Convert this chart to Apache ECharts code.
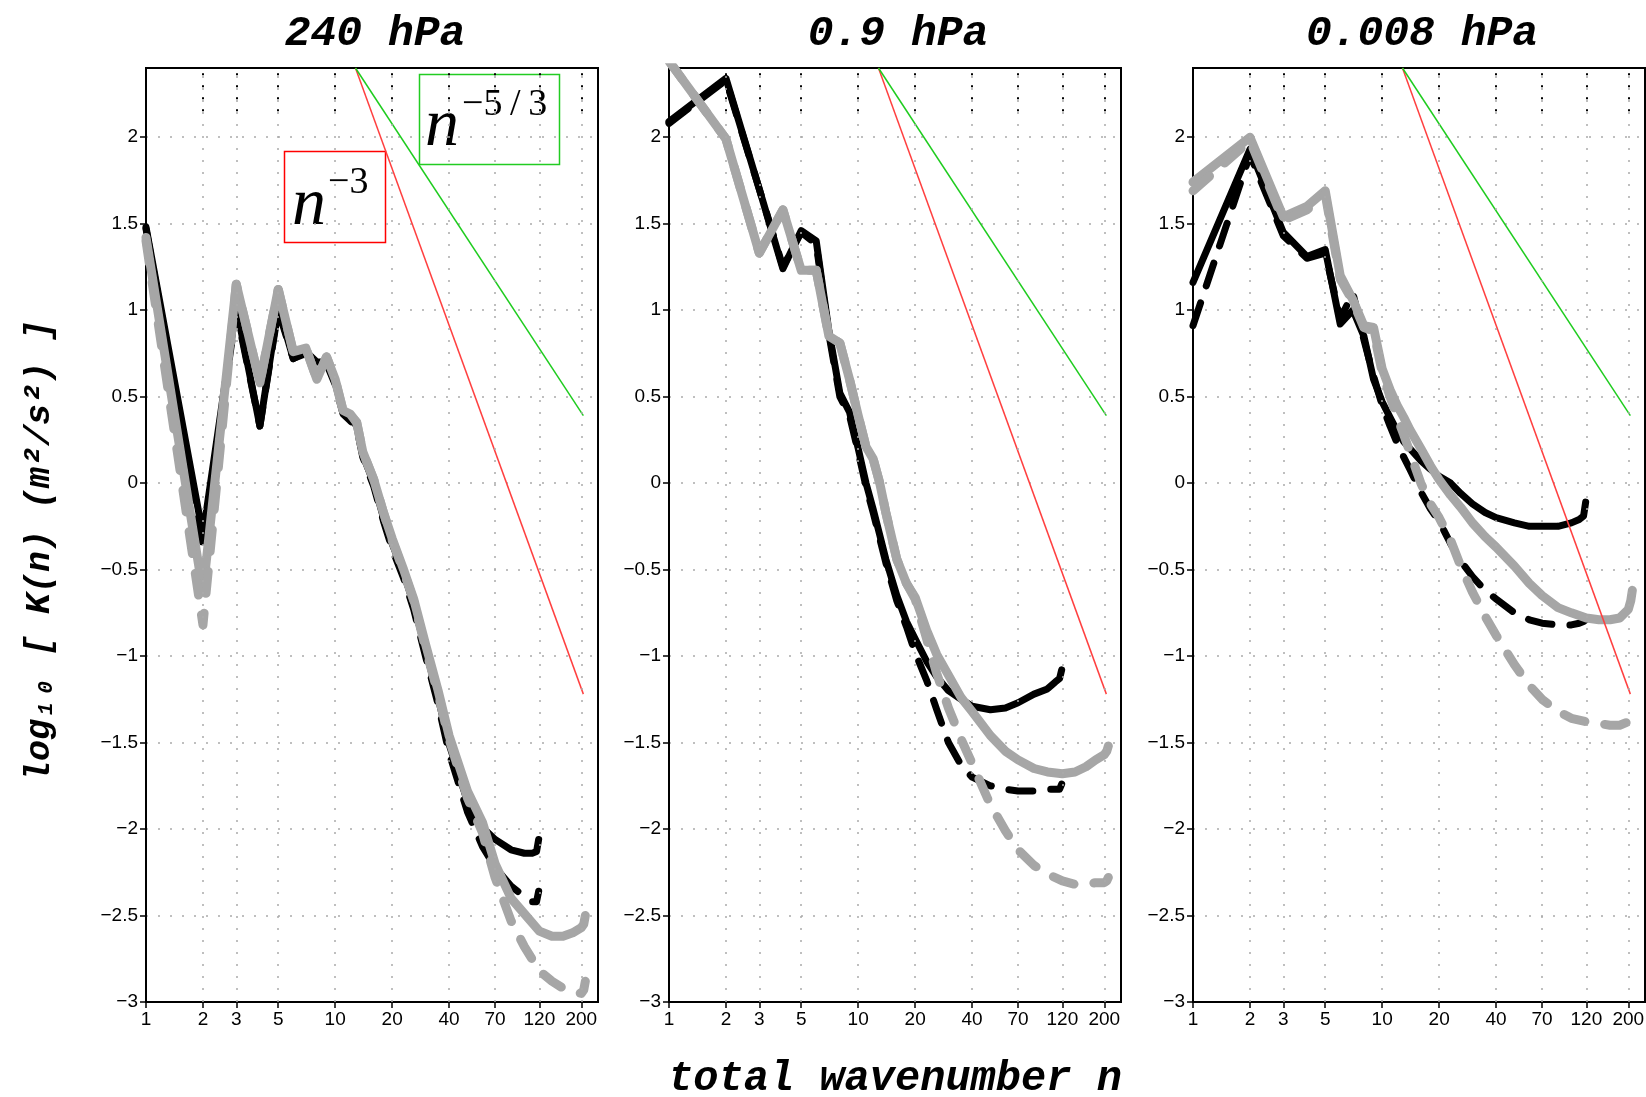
<!DOCTYPE html>
<html>
<head>
<meta charset="utf-8">
<title>kinetic energy spectra</title>
<script src="https://cdn.jsdelivr.net/npm/echarts@6/dist/echarts.min.js"></script>
<style>
  html, body { margin: 0; padding: 0; background: #fff; }
  #main { width: 1646px; height: 1097px; }
</style>
</head>
<body>
<div id="main"></div>
<script>
// wavenumbers at which the curves are sampled (T119 runs / T213 runs)
var nT119 = [1,2,3,4,5,6,7,8,9,10,11,12,13,14,16,18,20,23,26,30,35,40,50,60,70,85,100,110,116,119];
var nT213 = [1,2,3,4,5,6,7,8,9,10,11,12,13,14,16,18,20,23,26,30,35,40,50,60,70,85,100,120,140,160,180,200,206,210];

// 240 hPa
var blackSolid240 = [1.48,-0.30,1.02,0.33,1.02,0.72,0.76,0.70,0.70,0.58,0.41,0.38,0.33,0.16,0.0,-0.20,-0.35,-0.52,-0.70,-0.96,-1.24,-1.51,-1.84,-1.99,-2.06,-2.12,-2.14,-2.14,-2.13,-2.06];
var blackDash240  = [1.47,-0.36,1.00,0.33,1.00,0.72,0.75,0.69,0.69,0.57,0.40,0.36,0.32,0.15,-0.02,-0.22,-0.38,-0.55,-0.73,-1.00,-1.28,-1.56,-1.90,-2.10,-2.22,-2.33,-2.39,-2.42,-2.42,-2.36];
var graySolid240  = [1.42,-0.63,1.15,0.58,1.12,0.76,0.78,0.60,0.73,0.60,0.42,0.40,0.35,0.18,0.02,-0.17,-0.32,-0.50,-0.67,-0.93,-1.20,-1.46,-1.78,-1.96,-2.20,-2.40,-2.49,-2.59,-2.62,-2.62,-2.60,-2.57,-2.55,-2.50];
var grayDash240   = [1.40,-0.82,1.15,0.58,1.12,0.76,0.78,0.60,0.73,0.60,0.42,0.40,0.35,0.18,0.02,-0.17,-0.33,-0.51,-0.68,-0.95,-1.22,-1.48,-1.82,-2.02,-2.28,-2.53,-2.68,-2.82,-2.88,-2.92,-2.94,-2.95,-2.93,-2.88];

// 0.9 hPa
var blackSolid09 = [2.09,2.34,1.70,1.24,1.46,1.40,0.88,0.52,0.41,0.20,0.0,-0.15,-0.30,-0.44,-0.65,-0.80,-0.90,-1.03,-1.12,-1.20,-1.25,-1.29,-1.31,-1.30,-1.27,-1.22,-1.19,-1.15,-1.13,-1.08];
var blackDash09  = [2.08,2.33,1.70,1.25,1.45,1.38,0.86,0.50,0.39,0.18,-0.02,-0.17,-0.32,-0.46,-0.68,-0.83,-0.98,-1.14,-1.31,-1.50,-1.63,-1.70,-1.75,-1.77,-1.78,-1.78,-1.77,-1.77,-1.77,-1.74];
var graySolid09  = [2.44,1.99,1.33,1.58,1.23,1.23,0.85,0.81,0.60,0.39,0.21,0.14,0.0,-0.17,-0.44,-0.58,-0.66,-0.85,-0.99,-1.11,-1.24,-1.32,-1.46,-1.55,-1.60,-1.65,-1.67,-1.68,-1.67,-1.64,-1.60,-1.57,-1.55,-1.52];
var grayDash09   = [2.44,1.99,1.33,1.58,1.23,1.23,0.85,0.81,0.60,0.39,0.21,0.14,0.0,-0.17,-0.44,-0.58,-0.67,-0.90,-1.10,-1.30,-1.48,-1.62,-1.86,-2.01,-2.12,-2.21,-2.26,-2.30,-2.32,-2.32,-2.31,-2.31,-2.30,-2.28];

// 0.008 hPa
var blackSolid0008 = [1.16,1.93,1.45,1.31,1.35,0.92,1.00,0.85,0.60,0.47,0.38,0.30,0.24,0.20,0.13,0.08,0.04,0.0,-0.06,-0.12,-0.17,-0.20,-0.23,-0.25,-0.25,-0.25,-0.23,-0.21,-0.19,-0.11];
var blackDash0008  = [0.91,1.90,1.43,1.30,1.33,0.95,1.10,0.83,0.62,0.45,0.33,0.23,0.15,0.08,-0.05,-0.15,-0.22,-0.35,-0.45,-0.54,-0.62,-0.67,-0.75,-0.79,-0.81,-0.82,-0.82,-0.81,-0.80,-0.79];
var graySolid0008  = [1.74,2.00,1.54,1.60,1.69,1.20,1.06,0.91,0.90,0.66,0.54,0.45,0.38,0.31,0.20,0.10,0.02,-0.07,-0.14,-0.23,-0.31,-0.37,-0.48,-0.58,-0.65,-0.72,-0.75,-0.78,-0.79,-0.79,-0.78,-0.73,-0.68,-0.62];
var grayDash0008   = [1.69,1.98,1.52,1.58,1.67,1.18,1.05,0.90,0.88,0.64,0.50,0.38,0.28,0.18,0.0,-0.12,-0.20,-0.33,-0.48,-0.63,-0.77,-0.88,-1.05,-1.17,-1.25,-1.32,-1.36,-1.38,-1.39,-1.40,-1.40,-1.38,-1.36,-1.33];

// reference slopes n^-3 and n^-5/3 (end points)
var refN = [12.8, 205];
var refMinus3 = [2.4, -1.22];
var refMinus53 = [2.4, 0.39];

var panelTitles = ['240 hPa', '0.9 hPa', '0.008 hPa'];
var xTicks = [1, 2, 3, 5, 10, 20, 40, 70, 120, 200];

var panels = [
  [blackSolid240, blackDash240, graySolid240, grayDash240],
  [blackSolid09, blackDash09, graySolid09, grayDash09],
  [blackSolid0008, blackDash0008, graySolid0008, grayDash0008]
];

var chart = echarts.init(document.getElementById('main'));

var gridLefts = [146, 669, 1193];
var monoFont = 'Liberation Mono';

function pairs(xs, ys) {
  return xs.map(function (x, i) { return [x, ys[i]]; });
}

function curve(idx, xs, ys, color, width, dashed) {
  return {
    type: 'line',
    xAxisIndex: idx,
    yAxisIndex: idx,
    data: pairs(xs, ys),
    symbol: 'none',
    silent: true,
    z: 3,
    lineStyle: {
      color: color,
      width: width,
      type: dashed ? (width > 7 ? [22, 20] : [24, 18]) : 'solid',
      cap: 'round',
      join: 'round'
    }
  };
}

var grids = [], xAxes = [], yAxes = [], series = [], titles = [];

for (var i = 0; i < 3; i++) {
  grids.push({
    left: gridLefts[i], top: 68, width: 452, height: 934,
    outerBoundsMode: 'none', containLabel: false,
    show: true, borderColor: '#000', borderWidth: 2, backgroundColor: 'transparent'
  });
  xAxes.push({
    type: 'log', logBase: 10, gridIndex: i, min: 1, max: 245,
    axisLine: { show: true, onZero: false, lineStyle: { color: '#000', width: 2 } },
    axisTick: { show: true, customValues: xTicks, length: 6, lineStyle: { color: '#000', width: 1.5 } },
    axisLabel: {
      customValues: xTicks, color: '#000', fontFamily: 'Liberation Sans', fontSize: 19, margin: 8,
      formatter: function (v) { return String(Math.round(v)); }
    },
    splitLine: { show: false },
    minorTick: { show: false },
    name: i === 1 ? 'total wavenumber n' : '',
    nameLocation: 'middle',
    nameGap: 56,
    nameTextStyle: { fontFamily: monoFont, fontStyle: 'italic', fontWeight: 'bold', fontSize: 42, color: '#000' }
  });
  yAxes.push({
    type: 'value', gridIndex: i, min: -3, max: 2.4, interval: 0.5,
    axisLine: { show: true, onZero: false, lineStyle: { color: '#000', width: 2 } },
    axisTick: { show: true, length: 6, lineStyle: { color: '#000', width: 1.5 } },
    axisLabel: {
      color: '#000', fontFamily: 'Liberation Sans', fontSize: 19, margin: 8, showMaxLabel: false,
      formatter: function (v) {
        if (v > 2.01) return '';
        return v < 0 ? '\u2212' + String(Math.abs(v)) : String(v);
      }
    },
    splitLine: { show: true, showMinLine: false, showMaxLine: false, lineStyle: { color: '#aaa', width: 1.5, type: [2, 10] } },
    name: i === 0 ? 'log\u2081\u2080 [ K(n) (m\u00b2/s\u00b2) ]' : '',
    nameLocation: 'middle',
    nameRotate: 90,
    nameGap: 88,
    nameTextStyle: { fontFamily: monoFont, fontStyle: 'italic', fontWeight: 'bold', fontSize: 35, color: '#000', padding: [0, 32, 0, 0] }
  });
  titles.push({
    text: panelTitles[i], left: gridLefts[i] + 224, top: 8, textAlign: 'center',
    textStyle: { fontFamily: monoFont, fontStyle: 'italic', fontWeight: 'bold', fontSize: 43, color: '#000' }
  });

  // vertical dotted grid lines at the labelled wavenumbers
  var gridMarks = xTicks.filter(function (v) { return v > 1; }).map(function (v) { return { xAxis: v }; });
  var topDots = xTicks.filter(function (v) { return v > 1; }).map(function (v) {
    return [{ coord: [v, 2.15], lineStyle: { color: '#000', width: 2, type: [2, 10] } }, { coord: [v, 2.4] }];
  });
  series.push({
    type: 'line', xAxisIndex: i, yAxisIndex: i, data: [], z: 1, silent: true,
    markLine: {
      silent: true, symbol: 'none', animation: false,
      label: { show: false },
      lineStyle: { color: '#aaa', width: 1.5, type: [2, 10] },
      data: gridMarks.concat(topDots)
    }
  });

  var p = panels[i];
  series.push(curve(i, nT119, p[0], '#000', 7, false));
  series.push(curve(i, nT119, p[1], '#000', 7, true));
  series.push(curve(i, nT213, p[2], '#a6a6a6', 9, false));
  series.push(curve(i, nT213, p[3], '#a6a6a6', 9, true));

  series.push({
    type: 'line', xAxisIndex: i, yAxisIndex: i, data: pairs(refN, refMinus3), symbol: 'none', silent: true, z: 4,
    lineStyle: { color: '#ff4040', width: 1.5 }
  });
  series.push({
    type: 'line', xAxisIndex: i, yAxisIndex: i, data: pairs(refN, refMinus53), symbol: 'none', silent: true, z: 4,
    lineStyle: { color: '#1fcc1f', width: 1.5 }
  });
}

var serif = '"Liberation Serif", "DejaVu Serif", serif';

var option = {
  animation: false,
  backgroundColor: '#fff',
  title: titles,
  grid: grids,
  xAxis: xAxes,
  yAxis: yAxes,
  series: series,
  graphic: [
    { type: 'rect', left: 282, top: 149, shape: { width: 101, height: 91 }, style: { fill: 'none', stroke: '#ff0000', lineWidth: 1.5 } },
    { type: 'text', x: 292, y: 240, style: { text: 'n', font: 'italic 68px ' + serif, fill: '#000', verticalAlign: 'bottom' } },
    { type: 'text', x: 328, y: 202, style: { text: '\u22123', font: '38px ' + serif, fill: '#000', verticalAlign: 'bottom' } },
    { type: 'rect', left: 417, top: 72, shape: { width: 140, height: 90 }, style: { fill: 'none', stroke: '#22cc22', lineWidth: 1.5 } },
    { type: 'text', x: 425, y: 161, style: { text: 'n', font: 'italic 68px ' + serif, fill: '#000', verticalAlign: 'bottom' } },
    { type: 'text', x: 462, y: 124, style: { text: '\u22125\u2009/\u20093', font: '38px ' + serif, fill: '#000', verticalAlign: 'bottom' } }
  ]
};

chart.setOption(option);
</script>
</body>
</html>
